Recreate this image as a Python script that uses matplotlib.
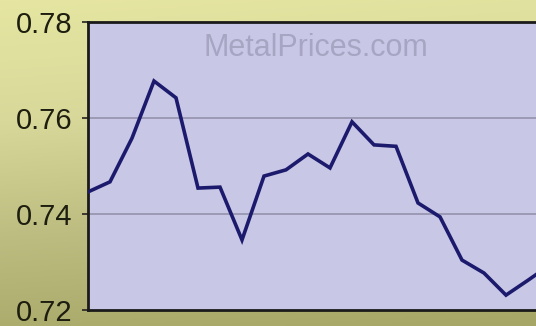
import numpy as np
import matplotlib.pyplot as plt
from matplotlib.colors import LinearSegmentedColormap

# Price readings (one per period); the last one lies
# just past the cropped right edge
prices = [0.7446, 0.7467, 0.7558, 0.7677, 0.7642, 0.7454, 0.7456, 0.7346,
          0.7479, 0.7492, 0.7525, 0.7496, 0.7592, 0.7544, 0.7541, 0.7423,
          0.7394, 0.7304, 0.7277, 0.7231, 0.7262, 0.7294]
periods = list(range(len(prices)))
y_ticks = [0.72, 0.74, 0.76, 0.78]
y_labels = ["0.72", "0.74", "0.76", "0.78"]
watermark = "MetalPrices.com"

W, H = 536, 326
fig = plt.figure(figsize=(W / 100, H / 100), dpi=100)

# olive / pale yellow gradient background
bg = fig.add_axes([0, 0, 1, 1], zorder=-10)
bg_cmap = LinearSegmentedColormap.from_list(
    "bg", ["#e6e6a2", "#d8d89a", "#bcbc80", "#a6a666"])
gy = np.linspace(0, 1, 200)[:, None]
gx = np.linspace(0, 1, 200)[None, :]
grad = np.clip(gy * 0.9 + gx * 0.1, 0, 1)
bg.imshow(grad, cmap=bg_cmap, aspect="auto", extent=[0, 1, 0, 1],
          origin="upper", vmin=0, vmax=1)
bg.set_axis_off()

# plot area runs past the right edge of the picture
left, top, bottom = 88, 22, 310
step = 22
ax = fig.add_axes([left / W, (H - bottom) / H, 24 * step / W, (bottom - top) / H])
ax.set_facecolor("#c9c7e6")
ax.set_xlim(0, 24)
ax.set_ylim(0.72, 0.78)

ax.plot(periods, prices, color="#1c1a6c", lw=2.6, solid_joinstyle="miter",
        zorder=3)

for t in [0.74, 0.76]:
    ax.axhline(t, color="#9896b0", lw=1.3, zorder=1)

ax.set_yticks(y_ticks)
ax.set_yticklabels(y_labels, fontsize=21, family="Liberation Sans",
                   color="#1e1e10")
ax.tick_params(axis="y", length=4, width=1.2, pad=7, color="#222222")
ax.set_xticks([])
for side in ["left", "top", "bottom"]:
    ax.spines[side].set_color("#1a1a1a")
    ax.spines[side].set_linewidth(2)
ax.spines["right"].set_visible(False)

fig.text(316 / W, 1 - 48 / H, watermark, fontsize=22, family="Liberation Sans",
         color="#a6a5c2", ha="center", va="center")

fig.savefig("out.png", dpi=100)
